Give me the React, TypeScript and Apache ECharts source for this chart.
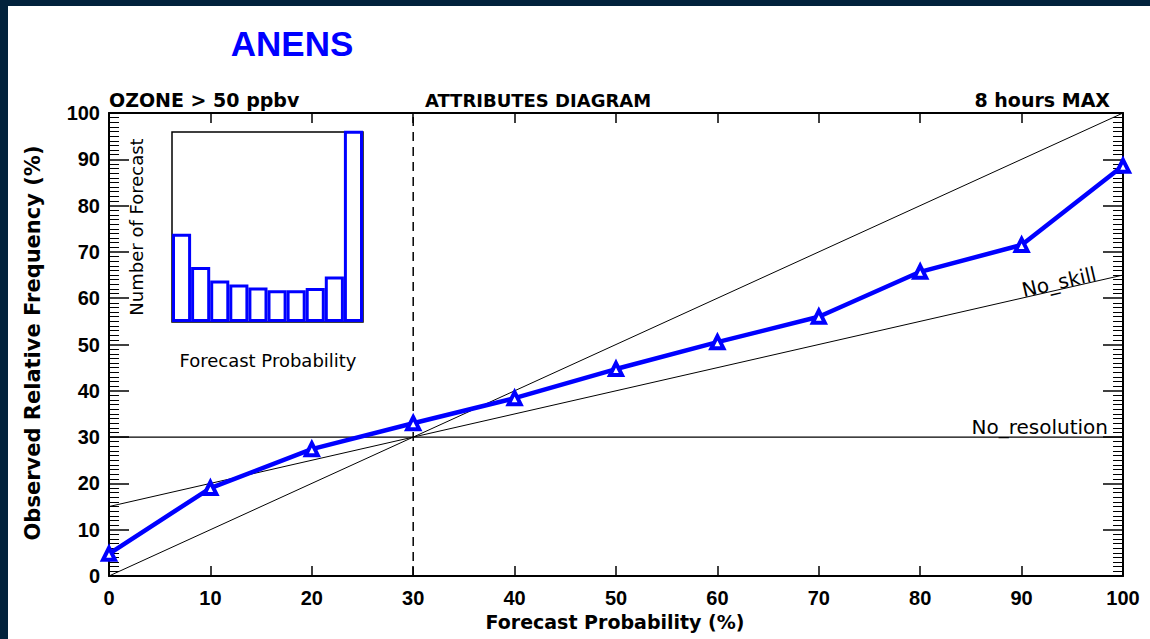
import React, { useEffect, useRef } from "react";
import * as echarts from "echarts";

// ---- data ----
const forecastProb = [0, 10, 20, 30, 40, 50, 60, 70, 80, 90, 100];
const observedFreq = [4.8, 19.0, 27.4, 33.0, 38.4, 44.7, 50.5, 56.0, 65.7, 71.5, 88.6];
const perfectLine = [[0, 0], [100, 100]];
const noSkillLine = [[0, 15], [100, 65]];
const noResolutionLine = [[0, 30], [100, 30]];
const climatologyLine = [[30, 0], [30, 100]];
const histBins = ["1", "2", "3", "4", "5", "6", "7", "8", "9", "10"];
const histCounts = [46.5, 28.9, 21.9, 19.8, 18.1, 16.7, 16.7, 17.9, 24.0, 100.6];

const BLUE = "#0000ff";
const LABEL_FONT = "Liberation Sans";
const TEXT_FONT = "DejaVu Sans";

export default function App() {
  const ref = useRef<HTMLDivElement>(null);

  useEffect(() => {
    if (!ref.current) return;
    const chart = echarts.init(ref.current, undefined, { renderer: "svg" });

    const tickStyle = { color: "#000", width: 1.5 };
    const axisLine = { show: true, onZero: false, lineStyle: { color: "#000", width: 2 } };

    const option: any = {
      animation: false,
      backgroundColor: "transparent",
      textStyle: { fontFamily: TEXT_FONT },
      grid: [
        { left: 109, top: 113, right: 27, bottom: 63, show: false },
        {
          left: 172, top: 132, width: 191, height: 190, show: true,
          borderColor: "#000", borderWidth: 1.5, backgroundColor: "transparent",
        },
      ],
      xAxis: [
        {
          type: "value", gridIndex: 0, position: "bottom", min: 0, max: 100, interval: 10,
          axisLine, axisTick: { show: true, inside: true, length: 10, lineStyle: tickStyle },
          axisLabel: { show: true, color: "#000", fontFamily: LABEL_FONT, fontWeight: "bold", fontSize: 20, margin: 12 },
          splitLine: { show: false },
        },
        {
          type: "value", gridIndex: 0, position: "top", min: 0, max: 100, interval: 10,
          axisLine, axisTick: { show: true, inside: true, length: 10, lineStyle: tickStyle },
          axisLabel: { show: false }, splitLine: { show: false },
        },
        {
          type: "category", gridIndex: 1, data: histBins, show: false,
        },
      ],
      yAxis: [
        {
          type: "value", gridIndex: 0, position: "left", min: 0, max: 100, interval: 10,
          axisLine, axisTick: { show: true, inside: true, length: 20, lineStyle: tickStyle },
          minorTick: { show: true, splitNumber: 10, length: 10, lineStyle: { color: "#000", width: 1 } },
          axisLabel: { show: true, color: "#000", fontFamily: LABEL_FONT, fontWeight: "bold", fontSize: 20, margin: 9 },
          splitLine: { show: false }, minorSplitLine: { show: false },
        },
        {
          type: "value", gridIndex: 0, position: "right", min: 0, max: 100, interval: 10,
          axisLine, axisTick: { show: true, inside: true, length: 20, lineStyle: tickStyle },
          minorTick: { show: true, splitNumber: 10, length: 10, lineStyle: { color: "#000", width: 1 } },
          axisLabel: { show: false }, splitLine: { show: false },
        },
        {
          type: "value", gridIndex: 1, min: 0, max: 100, show: false,
        },
      ],
      series: [
        {
          type: "line", xAxisIndex: 0, yAxisIndex: 0, data: perfectLine, symbol: "none",
          lineStyle: { color: "#000", width: 1 }, z: 1,
        },
        {
          type: "line", xAxisIndex: 0, yAxisIndex: 0, data: noSkillLine, symbol: "none",
          lineStyle: { color: "#000", width: 1 }, z: 1,
        },
        {
          type: "line", xAxisIndex: 0, yAxisIndex: 0, data: noResolutionLine, symbol: "none",
          lineStyle: { color: "#000", width: 1.2 }, z: 1,
        },
        {
          type: "line", xAxisIndex: 0, yAxisIndex: 0, data: climatologyLine, symbol: "none",
          lineStyle: { color: "#000", width: 1.5, type: [9, 6] }, z: 1,
        },
        {
          type: "line", xAxisIndex: 0, yAxisIndex: 0,
          data: forecastProb.map((p, i) => [p, observedFreq[i]]),
          symbol: "triangle", symbolSize: 12, showSymbol: true,
          lineStyle: { color: BLUE, width: 4.5 },
          itemStyle: { color: "#ffffff", borderColor: BLUE, borderWidth: 4 },
          clip: false, z: 3,
        },
        {
          type: "bar", xAxisIndex: 2, yAxisIndex: 2, data: histCounts,
          barWidth: "100%", barCategoryGap: "0%", clip: false,
          itemStyle: { color: "#ffffff", borderColor: BLUE, borderWidth: 3 },
          z: 2,
        },
      ],
      graphic: [
        {
          type: "text", x: 292, y: 43,
          style: { text: "ANENS", fill: BLUE, font: `bold 35px "${LABEL_FONT}"`, textAlign: "center", textVerticalAlign: "middle" },
        },
        {
          type: "text", x: 109, y: 100,
          style: { text: "OZONE > 50 ppbv", fill: "#000", font: `bold 19px "${TEXT_FONT}"`, textAlign: "left", textVerticalAlign: "middle" },
        },
        {
          type: "text", x: 538, y: 100,
          style: { text: "ATTRIBUTES DIAGRAM", fill: "#000", font: `bold 18px "${TEXT_FONT}"`, textAlign: "center", textVerticalAlign: "middle" },
        },
        {
          type: "text", x: 1110, y: 100,
          style: { text: "8 hours MAX", fill: "#000", font: `bold 19px "${TEXT_FONT}"`, textAlign: "right", textVerticalAlign: "middle" },
        },
        {
          type: "text", x: 33, y: 343, rotation: Math.PI / 2,
          style: { text: "Observed Relative Frequency (%)", fill: "#000", font: `bold 21px "${TEXT_FONT}"`, textAlign: "center", textVerticalAlign: "middle" },
        },
        {
          type: "text", x: 615, y: 622,
          style: { text: "Forecast Probability (%)", fill: "#000", font: `bold 19px "${TEXT_FONT}"`, textAlign: "center", textVerticalAlign: "middle" },
        },
        {
          type: "text", x: 1108, y: 427,
          style: { text: "No_resolution", fill: "#000", font: `20px "${TEXT_FONT}"`, textAlign: "right", textVerticalAlign: "middle" },
        },
        {
          type: "text", x: 1059, y: 282, rotation: 0.227,
          style: { text: "No_skill", fill: "#000", font: `20px "${TEXT_FONT}"`, textAlign: "center", textVerticalAlign: "middle" },
        },
        {
          type: "text", x: 268, y: 360,
          style: { text: "Forecast Probability", fill: "#000", font: `18px "${TEXT_FONT}"`, textAlign: "center", textVerticalAlign: "middle" },
        },
        {
          type: "text", x: 136, y: 227, rotation: Math.PI / 2,
          style: { text: "Number of Forecast", fill: "#000", font: `18px "${TEXT_FONT}"`, textAlign: "center", textVerticalAlign: "middle" },
        },
      ],
    };

    chart.setOption(option);
    return () => chart.dispose();
  }, []);

  return (
    <div style={{ position: "fixed", left: 0, top: 0, width: 1150, height: 639, background: "#02223c" }}>
      <div style={{ position: "absolute", left: 8, top: 6, width: 1142, height: 633, background: "#ffffff" }} />
      <div ref={ref} style={{ position: "absolute", left: 0, top: 0, width: 1150, height: 639 }} />
    </div>
  );
}
